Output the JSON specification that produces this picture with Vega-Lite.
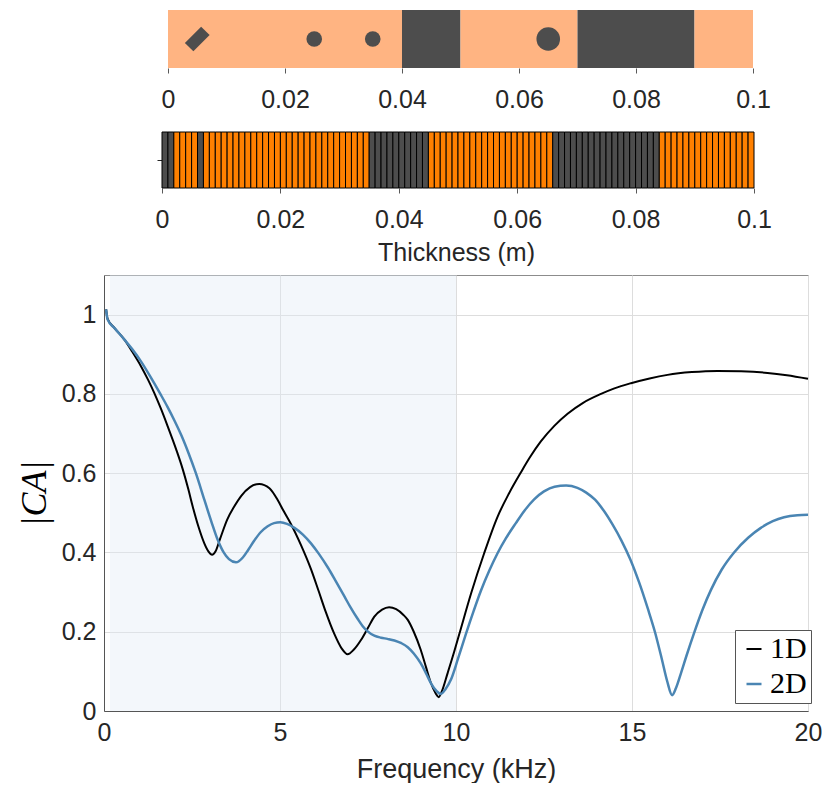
{
  "$schema": "https://vega.github.io/schema/vega-lite/v6.json",
  "padding": {"left": 15, "top": 10, "right": 0, "bottom": 0},
  "background": "white",
  "config": {
    "view": {"stroke": null},
    "font": "Liberation Sans",
    "axis": {
      "labelFont": "Liberation Sans",
      "titleFont": "Liberation Sans",
      "labelColor": "#262626",
      "titleColor": "#262626",
      "labelFontSize": 25,
      "titleFontSize": 25,
      "titleFontWeight": "normal",
      "labelFlush": false
    }
  },
  "spacing": 64,
  "bounds": "flush",
  "center": true,
  "resolve": {
    "scale": {"x": "independent", "y": "independent", "color": "independent", "shape": "independent", "size": "independent", "strokeWidth": "independent"},
    "legend": {"color": "independent"}
  },
  "vconcat": [
    {
      "width": 594,
      "height": 58,
      "layer": [
        {
          "data": {"values": [
            {"start": 0, "end": 0.04, "material": "A"},
            {"start": 0.04, "end": 0.05, "material": "B"},
            {"start": 0.05, "end": 0.07, "material": "A"},
            {"start": 0.07, "end": 0.09, "material": "B"},
            {"start": 0.09, "end": 0.1, "material": "A"}
          ]},
          "mark": {"type": "rect"},
          "encoding": {
            "x": {"field": "start", "type": "quantitative",
              "scale": {"domain": [-0.001538, 0.1], "nice": false, "zero": false},
              "axis": {"values": [0, 0.02, 0.04, 0.06, 0.08, 0.1], "format": "~g", "labelFlush": false, "domain": false, "grid": false, "ticks": true, "tickSize": 5, "tickColor": "#595959", "labelPadding": 14, "title": null}},
            "x2": {"field": "end"},
            "color": {"field": "material", "type": "nominal", "scale": {"domain": ["A", "B"], "range": ["#FFB482", "#4D4D4D"]}, "legend": null}
          }
        },
        {
          "data": {"values": [
            {"position": 0.005, "inclusion": "plate"},
            {"position": 0.025, "inclusion": "small"},
            {"position": 0.035, "inclusion": "small"},
            {"position": 0.065, "inclusion": "large"}
          ]},
          "mark": {"type": "point", "filled": true, "color": "#4D4D4D", "opacity": 1, "strokeWidth": 0},
          "encoding": {
            "x": {"field": "position", "type": "quantitative"},
            "shape": {"field": "inclusion", "type": "nominal", "scale": {"type": "ordinal", "domain": ["plate", "small", "large"], "range": ["M 1 -0.314 L 0.314 -1 L -1 0.314 L -0.314 1 Z", "circle", "circle"]}, "legend": null},
            "size": {"field": "inclusion", "type": "nominal", "scale": {"type": "ordinal", "domain": ["plate", "small", "large"], "range": [612, 243, 556]}, "legend": null}
          }
        }
      ]
    },
    {
      "width": 596,
      "height": 79,
      "data": {"values": [
        {"start": 0.000, "end": 0.001, "material": "B"},
        {"start": 0.001, "end": 0.002, "material": "B"},
        {"start": 0.002, "end": 0.003, "material": "A"},
        {"start": 0.003, "end": 0.004, "material": "A"},
        {"start": 0.004, "end": 0.005, "material": "A"},
        {"start": 0.005, "end": 0.006, "material": "A"},
        {"start": 0.006, "end": 0.007, "material": "B"},
        {"start": 0.007, "end": 0.008, "material": "A"},
        {"start": 0.008, "end": 0.009, "material": "A"},
        {"start": 0.009, "end": 0.010, "material": "A"},
        {"start": 0.010, "end": 0.011, "material": "A"},
        {"start": 0.011, "end": 0.012, "material": "A"},
        {"start": 0.012, "end": 0.013, "material": "A"},
        {"start": 0.013, "end": 0.014, "material": "A"},
        {"start": 0.014, "end": 0.015, "material": "A"},
        {"start": 0.015, "end": 0.016, "material": "A"},
        {"start": 0.016, "end": 0.017, "material": "A"},
        {"start": 0.017, "end": 0.018, "material": "A"},
        {"start": 0.018, "end": 0.019, "material": "A"},
        {"start": 0.019, "end": 0.020, "material": "A"},
        {"start": 0.020, "end": 0.021, "material": "A"},
        {"start": 0.021, "end": 0.022, "material": "A"},
        {"start": 0.022, "end": 0.023, "material": "A"},
        {"start": 0.023, "end": 0.024, "material": "A"},
        {"start": 0.024, "end": 0.025, "material": "A"},
        {"start": 0.025, "end": 0.026, "material": "A"},
        {"start": 0.026, "end": 0.027, "material": "A"},
        {"start": 0.027, "end": 0.028, "material": "A"},
        {"start": 0.028, "end": 0.029, "material": "A"},
        {"start": 0.029, "end": 0.030, "material": "A"},
        {"start": 0.030, "end": 0.031, "material": "A"},
        {"start": 0.031, "end": 0.032, "material": "A"},
        {"start": 0.032, "end": 0.033, "material": "A"},
        {"start": 0.033, "end": 0.034, "material": "A"},
        {"start": 0.034, "end": 0.035, "material": "A"},
        {"start": 0.035, "end": 0.036, "material": "B"},
        {"start": 0.036, "end": 0.037, "material": "B"},
        {"start": 0.037, "end": 0.038, "material": "B"},
        {"start": 0.038, "end": 0.039, "material": "B"},
        {"start": 0.039, "end": 0.040, "material": "B"},
        {"start": 0.040, "end": 0.041, "material": "B"},
        {"start": 0.041, "end": 0.042, "material": "B"},
        {"start": 0.042, "end": 0.043, "material": "B"},
        {"start": 0.043, "end": 0.044, "material": "B"},
        {"start": 0.044, "end": 0.045, "material": "B"},
        {"start": 0.045, "end": 0.046, "material": "A"},
        {"start": 0.046, "end": 0.047, "material": "A"},
        {"start": 0.047, "end": 0.048, "material": "A"},
        {"start": 0.048, "end": 0.049, "material": "A"},
        {"start": 0.049, "end": 0.050, "material": "A"},
        {"start": 0.050, "end": 0.051, "material": "A"},
        {"start": 0.051, "end": 0.052, "material": "A"},
        {"start": 0.052, "end": 0.053, "material": "A"},
        {"start": 0.053, "end": 0.054, "material": "A"},
        {"start": 0.054, "end": 0.055, "material": "A"},
        {"start": 0.055, "end": 0.056, "material": "A"},
        {"start": 0.056, "end": 0.057, "material": "A"},
        {"start": 0.057, "end": 0.058, "material": "A"},
        {"start": 0.058, "end": 0.059, "material": "A"},
        {"start": 0.059, "end": 0.060, "material": "A"},
        {"start": 0.060, "end": 0.061, "material": "A"},
        {"start": 0.061, "end": 0.062, "material": "A"},
        {"start": 0.062, "end": 0.063, "material": "A"},
        {"start": 0.063, "end": 0.064, "material": "A"},
        {"start": 0.064, "end": 0.065, "material": "A"},
        {"start": 0.065, "end": 0.066, "material": "A"},
        {"start": 0.066, "end": 0.067, "material": "B"},
        {"start": 0.067, "end": 0.068, "material": "B"},
        {"start": 0.068, "end": 0.069, "material": "B"},
        {"start": 0.069, "end": 0.070, "material": "B"},
        {"start": 0.070, "end": 0.071, "material": "B"},
        {"start": 0.071, "end": 0.072, "material": "B"},
        {"start": 0.072, "end": 0.073, "material": "B"},
        {"start": 0.073, "end": 0.074, "material": "B"},
        {"start": 0.074, "end": 0.075, "material": "B"},
        {"start": 0.075, "end": 0.076, "material": "B"},
        {"start": 0.076, "end": 0.077, "material": "B"},
        {"start": 0.077, "end": 0.078, "material": "B"},
        {"start": 0.078, "end": 0.079, "material": "B"},
        {"start": 0.079, "end": 0.080, "material": "B"},
        {"start": 0.080, "end": 0.081, "material": "B"},
        {"start": 0.081, "end": 0.082, "material": "B"},
        {"start": 0.082, "end": 0.083, "material": "B"},
        {"start": 0.083, "end": 0.084, "material": "B"},
        {"start": 0.084, "end": 0.085, "material": "A"},
        {"start": 0.085, "end": 0.086, "material": "A"},
        {"start": 0.086, "end": 0.087, "material": "A"},
        {"start": 0.087, "end": 0.088, "material": "A"},
        {"start": 0.088, "end": 0.089, "material": "A"},
        {"start": 0.089, "end": 0.090, "material": "A"},
        {"start": 0.090, "end": 0.091, "material": "A"},
        {"start": 0.091, "end": 0.092, "material": "A"},
        {"start": 0.092, "end": 0.093, "material": "A"},
        {"start": 0.093, "end": 0.094, "material": "A"},
        {"start": 0.094, "end": 0.095, "material": "A"},
        {"start": 0.095, "end": 0.096, "material": "A"},
        {"start": 0.096, "end": 0.097, "material": "A"},
        {"start": 0.097, "end": 0.098, "material": "A"},
        {"start": 0.098, "end": 0.099, "material": "A"},
        {"start": 0.099, "end": 0.100, "material": "A"}
      ]},
      "mark": {"type": "rect", "stroke": "#000000", "strokeWidth": 1},
      "encoding": {
        "x": {"field": "start", "type": "quantitative",
          "scale": {"domain": [-0.000676, 0.1], "nice": false, "zero": false},
          "axis": {"values": [0, 0.02, 0.04, 0.06, 0.08, 0.1], "format": "~g", "labelFlush": false, "domain": false, "grid": false, "ticks": true, "tickSize": 5, "tickColor": "#595959", "labelPadding": 14, "offset": -23, "title": "Thickness (m)", "titlePadding": 8}},
        "x2": {"field": "end"},
        "y": {"datum": 0, "type": "quantitative",
          "scale": {"domain": [-0.4107, 1], "nice": false, "zero": false},
          "axis": {"values": [0.5], "labels": false, "domain": false, "grid": false, "ticks": true, "tickSize": 5, "tickColor": "#262626", "offset": -4, "title": null}},
        "y2": {"datum": 1},
        "color": {"field": "material", "type": "nominal", "scale": {"domain": ["A", "B"], "range": ["#FF8000", "#4D4D4D"]}, "legend": null}
      }
    },
    {
      "width": 704,
      "height": 436,
      "view": {"stroke": "#8c8c8c"},
      "layer": [
        {
          "data": {"values": [{"freq": 0.17, "freq_end": 10}]},
          "mark": {"type": "rect", "color": "#E1EBF5", "opacity": 0.4},
          "encoding": {
            "x": {"field": "freq", "type": "quantitative",
              "scale": {"domain": [0, 20], "nice": false},
              "axis": {"values": [0, 5, 10, 15, 20], "labelFlush": false, "grid": true, "gridColor": "#DDDDDD", "ticks": false, "domainColor": "#555555", "labelPadding": 9, "title": "Frequency (kHz)", "titleFontSize": 27, "titlePadding": 11}},
            "x2": {"field": "freq_end"}
          }
        },
        {
          "data": {"values": [
            {"model": "1D", "freq": 0.06, "value": 1.013},
            {"model": "1D", "freq": 0.1, "value": 0.99},
            {"model": "1D", "freq": 0.3, "value": 0.966},
            {"model": "1D", "freq": 0.58, "value": 0.937},
            {"model": "1D", "freq": 0.8, "value": 0.907},
            {"model": "1D", "freq": 1.05, "value": 0.87},
            {"model": "1D", "freq": 1.25, "value": 0.836},
            {"model": "1D", "freq": 1.43, "value": 0.802},
            {"model": "1D", "freq": 1.62, "value": 0.762},
            {"model": "1D", "freq": 1.81, "value": 0.718},
            {"model": "1D", "freq": 2.05, "value": 0.66},
            {"model": "1D", "freq": 2.24, "value": 0.609},
            {"model": "1D", "freq": 2.4, "value": 0.558},
            {"model": "1D", "freq": 2.52, "value": 0.516},
            {"model": "1D", "freq": 2.68, "value": 0.466},
            {"model": "1D", "freq": 2.85, "value": 0.423},
            {"model": "1D", "freq": 2.97, "value": 0.402},
            {"model": "1D", "freq": 3.07, "value": 0.394},
            {"model": "1D", "freq": 3.17, "value": 0.403},
            {"model": "1D", "freq": 3.3, "value": 0.435},
            {"model": "1D", "freq": 3.5, "value": 0.483},
            {"model": "1D", "freq": 3.7, "value": 0.516},
            {"model": "1D", "freq": 3.9, "value": 0.543},
            {"model": "1D", "freq": 4.15, "value": 0.565},
            {"model": "1D", "freq": 4.41, "value": 0.573},
            {"model": "1D", "freq": 4.7, "value": 0.562},
            {"model": "1D", "freq": 4.93, "value": 0.533},
            {"model": "1D", "freq": 5.1, "value": 0.505},
            {"model": "1D", "freq": 5.31, "value": 0.472},
            {"model": "1D", "freq": 5.6, "value": 0.418},
            {"model": "1D", "freq": 5.88, "value": 0.358},
            {"model": "1D", "freq": 6.1, "value": 0.302},
            {"model": "1D", "freq": 6.3, "value": 0.25},
            {"model": "1D", "freq": 6.54, "value": 0.195},
            {"model": "1D", "freq": 6.75, "value": 0.158},
            {"model": "1D", "freq": 6.92, "value": 0.143},
            {"model": "1D", "freq": 7.1, "value": 0.155},
            {"model": "1D", "freq": 7.3, "value": 0.179},
            {"model": "1D", "freq": 7.5, "value": 0.21},
            {"model": "1D", "freq": 7.68, "value": 0.238},
            {"model": "1D", "freq": 7.9, "value": 0.256},
            {"model": "1D", "freq": 8.1, "value": 0.262},
            {"model": "1D", "freq": 8.3, "value": 0.257},
            {"model": "1D", "freq": 8.5, "value": 0.243},
            {"model": "1D", "freq": 8.63, "value": 0.23},
            {"model": "1D", "freq": 8.8, "value": 0.2},
            {"model": "1D", "freq": 9.0, "value": 0.154},
            {"model": "1D", "freq": 9.15, "value": 0.11},
            {"model": "1D", "freq": 9.29, "value": 0.07},
            {"model": "1D", "freq": 9.42, "value": 0.045},
            {"model": "1D", "freq": 9.51, "value": 0.035},
            {"model": "1D", "freq": 9.6, "value": 0.05},
            {"model": "1D", "freq": 9.76, "value": 0.095},
            {"model": "1D", "freq": 9.95, "value": 0.15},
            {"model": "1D", "freq": 10.1, "value": 0.196},
            {"model": "1D", "freq": 10.43, "value": 0.297},
            {"model": "1D", "freq": 10.8, "value": 0.398},
            {"model": "1D", "freq": 11.18, "value": 0.49},
            {"model": "1D", "freq": 11.5, "value": 0.548},
            {"model": "1D", "freq": 11.85, "value": 0.603},
            {"model": "1D", "freq": 12.1, "value": 0.64},
            {"model": "1D", "freq": 12.41, "value": 0.68},
            {"model": "1D", "freq": 12.8, "value": 0.72},
            {"model": "1D", "freq": 13.17, "value": 0.75},
            {"model": "1D", "freq": 13.6, "value": 0.777},
            {"model": "1D", "freq": 14.12, "value": 0.8},
            {"model": "1D", "freq": 14.5, "value": 0.814},
            {"model": "1D", "freq": 14.97, "value": 0.827},
            {"model": "1D", "freq": 15.5, "value": 0.839},
            {"model": "1D", "freq": 16.01, "value": 0.848},
            {"model": "1D", "freq": 16.7, "value": 0.855},
            {"model": "1D", "freq": 17.43, "value": 0.858},
            {"model": "1D", "freq": 18.1, "value": 0.857},
            {"model": "1D", "freq": 18.85, "value": 0.853},
            {"model": "1D", "freq": 19.4, "value": 0.847},
            {"model": "1D", "freq": 20, "value": 0.838},
            {"model": "2D", "freq": 0.06, "value": 1.013},
            {"model": "2D", "freq": 0.1, "value": 0.988},
            {"model": "2D", "freq": 0.3, "value": 0.966},
            {"model": "2D", "freq": 0.58, "value": 0.937},
            {"model": "2D", "freq": 0.8, "value": 0.913},
            {"model": "2D", "freq": 1.05, "value": 0.882},
            {"model": "2D", "freq": 1.3, "value": 0.846},
            {"model": "2D", "freq": 1.6, "value": 0.8},
            {"model": "2D", "freq": 1.8, "value": 0.768},
            {"model": "2D", "freq": 2.0, "value": 0.733},
            {"model": "2D", "freq": 2.2, "value": 0.695},
            {"model": "2D", "freq": 2.4, "value": 0.651},
            {"model": "2D", "freq": 2.61, "value": 0.6},
            {"model": "2D", "freq": 2.85, "value": 0.533},
            {"model": "2D", "freq": 3.05, "value": 0.478},
            {"model": "2D", "freq": 3.23, "value": 0.432},
            {"model": "2D", "freq": 3.4, "value": 0.4},
            {"model": "2D", "freq": 3.55, "value": 0.383},
            {"model": "2D", "freq": 3.75, "value": 0.375},
            {"model": "2D", "freq": 3.95, "value": 0.388},
            {"model": "2D", "freq": 4.1, "value": 0.407},
            {"model": "2D", "freq": 4.27, "value": 0.43},
            {"model": "2D", "freq": 4.45, "value": 0.451},
            {"model": "2D", "freq": 4.65, "value": 0.466},
            {"model": "2D", "freq": 4.83, "value": 0.474},
            {"model": "2D", "freq": 5.01, "value": 0.476},
            {"model": "2D", "freq": 5.2, "value": 0.472},
            {"model": "2D", "freq": 5.41, "value": 0.462},
            {"model": "2D", "freq": 5.65, "value": 0.445},
            {"model": "2D", "freq": 5.88, "value": 0.423},
            {"model": "2D", "freq": 6.1, "value": 0.397},
            {"model": "2D", "freq": 6.36, "value": 0.362},
            {"model": "2D", "freq": 6.6, "value": 0.325},
            {"model": "2D", "freq": 6.83, "value": 0.289},
            {"model": "2D", "freq": 7.0, "value": 0.262},
            {"model": "2D", "freq": 7.21, "value": 0.232},
            {"model": "2D", "freq": 7.35, "value": 0.214},
            {"model": "2D", "freq": 7.49, "value": 0.201},
            {"model": "2D", "freq": 7.68, "value": 0.19},
            {"model": "2D", "freq": 7.87, "value": 0.185},
            {"model": "2D", "freq": 8.05, "value": 0.182},
            {"model": "2D", "freq": 8.25, "value": 0.178},
            {"model": "2D", "freq": 8.45, "value": 0.171},
            {"model": "2D", "freq": 8.63, "value": 0.161},
            {"model": "2D", "freq": 8.8, "value": 0.145},
            {"model": "2D", "freq": 9.0, "value": 0.12},
            {"model": "2D", "freq": 9.15, "value": 0.095},
            {"model": "2D", "freq": 9.29, "value": 0.07},
            {"model": "2D", "freq": 9.45, "value": 0.05},
            {"model": "2D", "freq": 9.57, "value": 0.043},
            {"model": "2D", "freq": 9.7, "value": 0.055},
            {"model": "2D", "freq": 9.86, "value": 0.08},
            {"model": "2D", "freq": 10.05, "value": 0.13},
            {"model": "2D", "freq": 10.28, "value": 0.194},
            {"model": "2D", "freq": 10.5, "value": 0.252},
            {"model": "2D", "freq": 10.71, "value": 0.304},
            {"model": "2D", "freq": 10.95, "value": 0.355},
            {"model": "2D", "freq": 11.18, "value": 0.398},
            {"model": "2D", "freq": 11.42, "value": 0.436},
            {"model": "2D", "freq": 11.7, "value": 0.474},
            {"model": "2D", "freq": 11.95, "value": 0.506},
            {"model": "2D", "freq": 12.22, "value": 0.534},
            {"model": "2D", "freq": 12.5, "value": 0.554},
            {"model": "2D", "freq": 12.8, "value": 0.566},
            {"model": "2D", "freq": 13.13, "value": 0.569},
            {"model": "2D", "freq": 13.45, "value": 0.563},
            {"model": "2D", "freq": 13.7, "value": 0.551},
            {"model": "2D", "freq": 13.95, "value": 0.533},
            {"model": "2D", "freq": 14.2, "value": 0.505},
            {"model": "2D", "freq": 14.45, "value": 0.47},
            {"model": "2D", "freq": 14.7, "value": 0.43},
            {"model": "2D", "freq": 14.95, "value": 0.383},
            {"model": "2D", "freq": 15.2, "value": 0.325},
            {"model": "2D", "freq": 15.45, "value": 0.258},
            {"model": "2D", "freq": 15.65, "value": 0.2},
            {"model": "2D", "freq": 15.85, "value": 0.13},
            {"model": "2D", "freq": 16.0, "value": 0.075},
            {"model": "2D", "freq": 16.14, "value": 0.04},
            {"model": "2D", "freq": 16.25, "value": 0.058},
            {"model": "2D", "freq": 16.39, "value": 0.095},
            {"model": "2D", "freq": 16.55, "value": 0.14},
            {"model": "2D", "freq": 16.76, "value": 0.196},
            {"model": "2D", "freq": 17.0, "value": 0.255},
            {"model": "2D", "freq": 17.24, "value": 0.305},
            {"model": "2D", "freq": 17.55, "value": 0.357},
            {"model": "2D", "freq": 17.9, "value": 0.4},
            {"model": "2D", "freq": 18.3, "value": 0.437},
            {"model": "2D", "freq": 18.66, "value": 0.462},
            {"model": "2D", "freq": 19.0, "value": 0.479},
            {"model": "2D", "freq": 19.32, "value": 0.489},
            {"model": "2D", "freq": 19.7, "value": 0.494},
            {"model": "2D", "freq": 20, "value": 0.495}
          ]},
          "mark": {"type": "line", "interpolate": "monotone"},
          "encoding": {
            "x": {"field": "freq", "type": "quantitative",
              "scale": {"domain": [0, 20], "nice": false},
              "axis": {"values": [0, 5, 10, 15, 20], "labelFlush": false, "grid": true, "gridColor": "#DDDDDD", "ticks": false, "domainColor": "#555555", "labelPadding": 9, "title": "Frequency (kHz)", "titleFontSize": 27, "titlePadding": 11}},
            "y": {"field": "value", "type": "quantitative",
              "scale": {"domain": [0, 1.1], "nice": false},
              "axis": {"values": [0, 0.2, 0.4, 0.6, 0.8, 1], "format": "~g", "grid": true, "gridColor": "#DDDDDD", "ticks": false, "domainColor": "#555555", "labelPadding": 8, "title": "|CA|", "titleFont": "Liberation Serif", "titleFontStyle": "italic", "titleFontSize": 36, "titlePadding": 8, "titleColor": "#000000"}},
            "color": {"field": "model", "type": "nominal",
              "scale": {"domain": ["1D", "2D"], "range": ["#000000", "#4A85B3"]},
              "legend": {"orient": "none", "legendX": 631, "legendY": 355, "title": null, "symbolType": "stroke", "symbolSize": 225, "symbolStrokeWidth": 2, "labelFont": "Liberation Serif", "labelFontSize": 30, "labelColor": "#000000", "labelOffset": 1, "fillColor": "#FFFFFF", "strokeColor": "#555555", "padding": 4, "rowPadding": 5}},
            "strokeWidth": {"field": "model", "type": "nominal", "scale": {"type": "ordinal", "domain": ["1D", "2D"], "range": [2, 2.5]}, "legend": null}
          }
        }
      ]
    }
  ]
}
